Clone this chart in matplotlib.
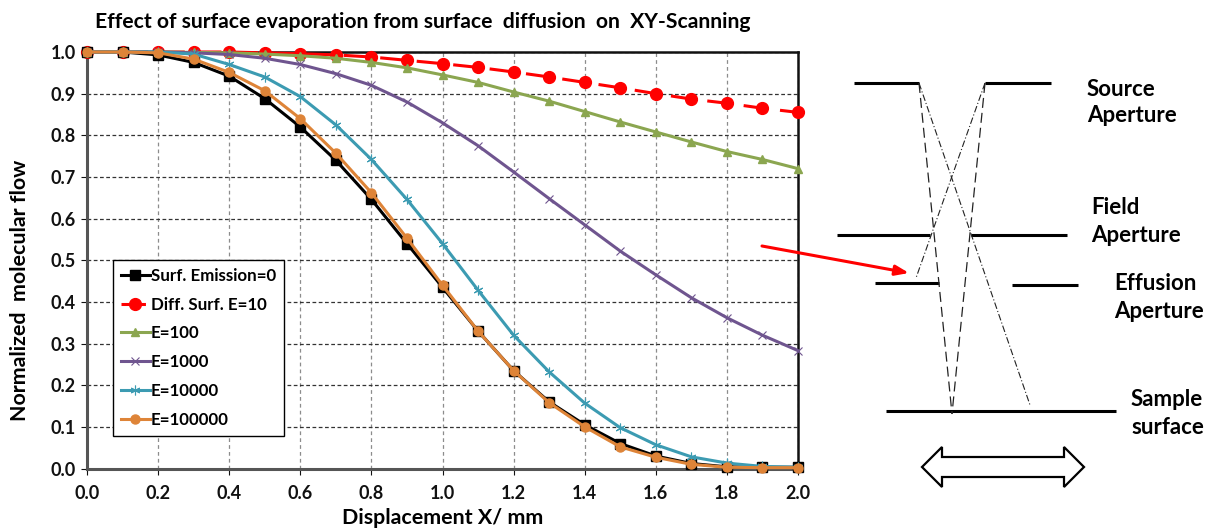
import numpy as np
import matplotlib
matplotlib.use('Agg')
import matplotlib.pyplot as plt
from matplotlib.patches import Polygon

plt.rcParams['font.family'] = ['Lato', 'DejaVu Sans']
plt.rcParams['font.weight'] = 'bold'

# Data
x_mm = np.arange(21) / 10
surf_0 = [1, 1, .993, .975, .942, .888, .82, .74, .646, .54, .435, .33, .235, .16, .105, .06, .03, .012, .004, .003, .003]
e_10 = [1, 1, 1, 1, 1, .998, .996, .993, .988, .98, .972, .963, .952, .94, .927, .914, .9, .887, .877, .865, .855]
e_100 = [1, 1, 1, .999, .998, .995, .991, .985, .975, .962, .945, .927, .904, .882, .857, .832, .808, .784, .761, .742, .72]
e_1000 = [1, 1, 1, .998, .994, .985, .97, .948, .92, .88, .83, .775, .712, .648, .585, .522, .465, .41, .362, .32, .283]
e_10000 = [1, 1, 1, .995, .97, .94, .893, .825, .742, .646, .54, .428, .32, .232, .157, .098, .057, .028, .013, .005, .003]
e_100000 = [1, 1, .998, .983, .951, .907, .84, .757, .662, .553, .44, .33, .235, .158, .1, .052, .027, .01, .003, .002, .002]

W, H = 1208, 529
fig = plt.figure(figsize=(W / 100, H / 100), dpi=100)

# Chart
left, right, top, bottom = 87, 798, 52, 468.5
ax = fig.add_axes([left / W, 1 - bottom / H, (right - left) / W, (bottom - top) / H])

ax.plot(x_mm, surf_0, '-', color='black', lw=2.2, marker='s', ms=7.5, clip_on=False, zorder=5, label='Surf. Emission=0')
ax.plot(x_mm, e_10, color='#ff0000', lw=2.2, ls=(0, (8, 4)), marker='o', ms=8.5, clip_on=False, zorder=4, label='Diff. Surf. E=10')
ax.plot(x_mm, e_100, '-', color='#8ba650', lw=2.2, marker='^', ms=6, clip_on=False, zorder=5, label='E=100')
ax.plot(x_mm, e_1000, '-', color='#6f558f', lw=2.2, marker='x', ms=6, mew=0.8, clip_on=False, zorder=5, label='E=1000')
ax.plot(x_mm, e_10000, '-', color='#3c9bb2', lw=2.2, marker=(6, 2, 0), ms=7, mew=0.8, clip_on=False, zorder=5, label='E=10000')
ax.plot(x_mm, e_100000, '-', color='#de8438', lw=2.2, marker='o', ms=6.5, clip_on=False, zorder=6, label='E=100000')

ax.set_xlim(0, 2)
ax.set_ylim(0, 1)
ax.set_xticks(np.arange(0, 2.01, 0.2))
ax.set_yticks(np.arange(0, 1.01, 0.1))
ax.xaxis.set_major_formatter('{x:.1f}')
ax.yaxis.set_major_formatter('{x:.1f}')
ax.tick_params(axis='both', labelsize=13, length=4, width=0.8, colors='#111111')
ax.tick_params(axis='x', pad=8)
ax.tick_params(axis='y', pad=4)
ax.grid(axis='x', color='#8c8c8c', ls=(0, (3, 2.5)), lw=0.9)
ax.grid(axis='y', color='#333333', ls=(0, (3, 2)), lw=0.9)
ax.set_axisbelow(True)
for name, spine in ax.spines.items():
    spine.set_linewidth(1.8 if name in ('top', 'right') else 2.2)
    spine.set_color('#111111' if name in ('top', 'right') else '#555555')

fig.text(443 / W, 1 - 518 / H, 'Displacement X/ mm', fontsize=15.4, ha='center', va='center')
fig.text(20 / W, 1 - 290 / H, 'Normalized  molecular flow', fontsize=15.4, rotation=90, ha='center', va='center')
fig.text(423 / W, 1 - 22 / H, 'Effect of surface evaporation from surface  diffusion  on  XY-Scanning',
         fontsize=15.2, ha='center', va='center')

leg = ax.legend(loc='upper left', bbox_to_anchor=((113 - left) / (right - left), 1 - (260 - top) / (bottom - top)),
                borderaxespad=0, fancybox=False, framealpha=1, edgecolor='black', fontsize=12.2,
                labelspacing=0.76, handlelength=1.75, handletextpad=0.05, borderpad=0.45)
leg.get_frame().set_linewidth(1.0)
leg.set_zorder(10)

# Aperture schematic, drawn in pixel coordinates over the whole figure
sk = fig.add_axes([0, 0, 1, 1], facecolor='none')
sk.set_xlim(0, W)
sk.set_ylim(H, 0)
sk.axis('off')

plates = [(854, 919, 82.5), (985, 1051, 82.5), (837, 930, 234.5), (971, 1067, 234.5),
          (875, 939, 283), (1012, 1078, 285), (886, 1116, 411)]
for x0, x1, y in plates:
    sk.plot([x0, x1], [y, y], color='black', lw=2.2, solid_capstyle='butt')

sk.plot([919, 952], [83, 414], color='#222222', lw=0.9, ls=(0, (8, 4)))
sk.plot([985, 952], [83, 414], color='#222222', lw=0.9, ls=(0, (8, 4)))
sk.plot([919, 1030], [83, 405], color='#222222', lw=0.8, ls=(0, (6, 2, 1, 2)))
sk.plot([985, 916], [83, 278], color='#222222', lw=0.8, ls=(0, (6, 2, 1, 2)))

sk.annotate('', xy=(909, 273), xytext=(762, 246),
            arrowprops=dict(arrowstyle='-|>,head_length=0.8,head_width=0.3', color='#ff0000', lw=2.2,
                            shrinkA=0, shrinkB=0))

scan = [(922, 467), (942, 447), (942, 457), (1064, 457), (1064, 447), (1084, 467),
        (1064, 487), (1064, 477), (942, 477), (942, 487)]
sk.add_patch(Polygon(scan, closed=True, facecolor='white', edgecolor='black', lw=1.6))

labels = [(1087, 89, 'Source'), (1087, 116, 'Aperture'), (1091, 207, 'Field'), (1091, 235, 'Aperture'),
          (1114, 283, 'Effusion'), (1114, 311, 'Aperture'), (1131, 399, 'Sample'), (1131, 427, 'surface')]
for lx, ly, s in labels:
    sk.text(lx, ly, s, fontsize=16, ha='left', va='center')

fig.savefig('out.png', dpi=100)
